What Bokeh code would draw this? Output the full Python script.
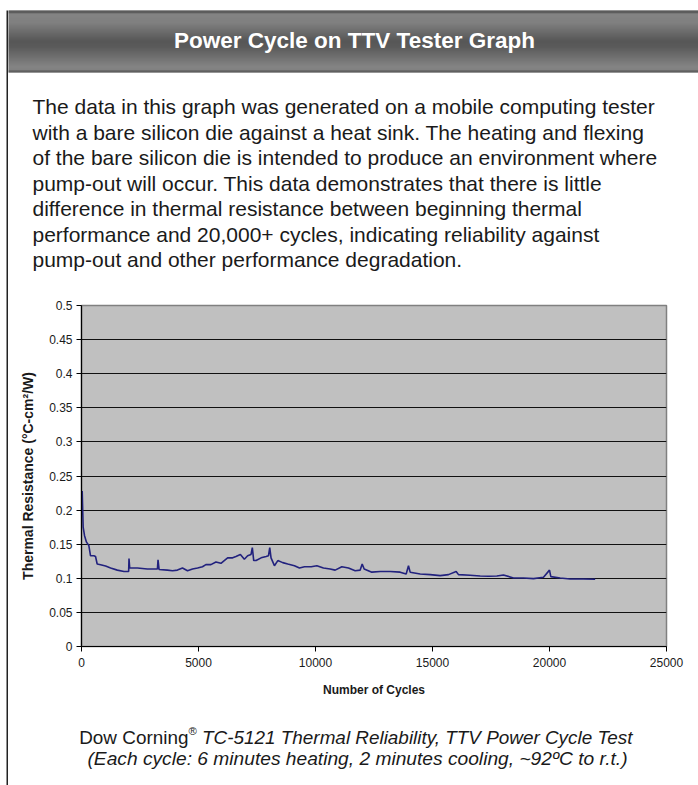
from bokeh.plotting import figure
from bokeh.models import Range1d, FixedTicker
from bokeh.layouts import column, row
from bokeh.embed import file_html
from bokeh.resources import INLINE
from bokeh.core.properties import value

# ---------------- data ----------------
TITLE = "Power Cycle on TTV Tester Graph"
PARAGRAPH = [
    "The data in this graph was generated on a mobile computing tester",
    "with a bare silicon die against a heat sink. The heating and flexing",
    "of the bare silicon die is intended to produce an environment where",
    "pump-out will occur. This data demonstrates that there is little",
    "difference in thermal resistance between beginning thermal",
    "performance and 20,000+ cycles, indicating reliability against",
    "pump-out and other performance degradation.",
]
CAPTION_PLAIN = "Dow Corning"
CAPTION_MARK = "®"
CAPTION_ITALIC = "TC-5121 Thermal Reliability, TTV Power Cycle Test"
CAPTION_LINE2 = "(Each cycle: 6 minutes heating, 2 minutes cooling, ~92ºC to r.t.)"
X_LABEL = "Number of Cycles"
Y_LABEL = "Thermal Resistance (°C-cm²/W)"

cycles = [0, 30, 71, 130, 214, 314, 386, 530, 600, 670, 815, 1030, 1243, 1530,
          1815, 2015, 2030, 2060, 2390, 2815, 3245, 3270, 3315, 3670, 3890, 4100,
          4315, 4530, 4745, 4960, 5170, 5315, 5530, 5745, 5960, 6100, 6245, 6460,
          6600, 6790, 6960, 7100, 7245, 7300, 7360, 7460, 7675, 7890, 7990, 8045,
          8100, 8245, 8390, 8600, 8815, 9100, 9315, 9530, 9815, 10057, 10340,
          10627, 10840, 11125, 11410, 11695, 11910, 11995, 12080, 12407, 12763,
          13190, 13618, 13875, 13974, 14045, 14473, 14900, 15328, 15684, 16011,
          16111, 16610, 17037, 17393, 17749, 18034, 18461, 18889, 19316, 19744,
          20000, 20057, 20456, 20883, 21453, 21951]
resistance = [0.21, 0.228, 0.175, 0.1625, 0.153, 0.148, 0.133, 0.133, 0.132, 0.121,
              0.12, 0.118, 0.115, 0.112, 0.110, 0.110, 0.129, 0.115, 0.115, 0.1137,
              0.1137, 0.127, 0.113, 0.112, 0.111, 0.112, 0.115, 0.111, 0.1137, 0.115,
              0.117, 0.12, 0.12, 0.124, 0.122, 0.126, 0.13, 0.13, 0.132, 0.135,
              0.128, 0.133, 0.135, 0.145, 0.126, 0.126, 0.13, 0.132, 0.133, 0.145,
              0.13, 0.1185, 0.126, 0.123, 0.121, 0.1185, 0.115, 0.117, 0.117, 0.1185,
              0.115, 0.1137, 0.112, 0.117, 0.115, 0.111, 0.112, 0.121, 0.1137, 0.109,
              0.110, 0.110, 0.109, 0.1063, 0.1185, 0.109, 0.1063, 0.1054, 0.1039,
              0.1054, 0.11, 0.1054, 0.1044, 0.1034, 0.103, 0.1034, 0.1049, 0.1005,
              0.1005, 0.0995, 0.1015, 0.112, 0.1024, 0.1005, 0.099, 0.099, 0.0985]

y_ticks = [0, 0.05, 0.1, 0.15, 0.2, 0.25, 0.3, 0.35, 0.4, 0.45, 0.5]
y_tick_labels = ["0", "0.05", "0.1", "0.15", "0.2", "0.25", "0.3", "0.35", "0.4", "0.45", "0.5"]
x_ticks = [0, 5000, 10000, 15000, 20000, 25000]
x_tick_labels = ["0", "5000", "10000", "15000", "20000", "25000"]

# ---------------- styling ----------------
FONT = value("Liberation Sans")
BW = 8            # left strip (white margin + dark border line)
W = 690
H_TOP, H_CHART, H_CAP = 290, 415, 80
H_ALL = H_TOP + H_CHART + H_CAP
TEXT_COLOR = "#1a1a1a"


def blank(width, height):
    f = figure(width=width, height=height, x_range=Range1d(0, width),
               y_range=Range1d(height, 0), output_backend="svg",
               toolbar_location=None, min_border=0,
               x_axis_type=None, y_axis_type=None, frame_align=False)
    f.grid.visible = False
    f.outline_line_color = None
    return f


# left border strip
border = blank(BW, H_ALL)
border.quad(left=[6], right=[8], top=[10], bottom=[H_ALL],
            fill_color="#222222", line_color=None)

# header + paragraph
top = blank(W, H_TOP)
stops = [(10, (38, 38, 38)), (12, (40, 40, 40)), (13, (92, 92, 92)), (22, (86, 86, 86)),
         (40, (32, 32, 32)), (46, (36, 36, 36)), (66, (92, 92, 92)), (69, (88, 88, 88)),
         (70, (44, 44, 44)), (72, (44, 44, 44))]
bands_t, bands_b, bands_c = [], [], []
for y in range(10, 72):
    for (ya, ca), (yb, cb) in zip(stops[:-1], stops[1:]):
        if ya <= y < yb:
            t = (y - ya) / (yb - ya)
            c = tuple(int(round(ca[k] + (cb[k] - ca[k]) * t)) for k in range(3))
            break
    bands_t.append(y)
    bands_b.append(y + 1)
    bands_c.append("#%02x%02x%02x" % c)
top.quad(left=-2, right=W, top=bands_t, bottom=bands_b, fill_color=bands_c, line_color=None)
top.text(x=[346], y=[40], text=[TITLE], text_font=FONT, text_font_style="bold",
         text_font_size="22.5px", text_color="white", text_align="center",
         text_baseline="middle")
top.text(x=[24] * len(PARAGRAPH), y=[106 + 25.5 * i for i in range(len(PARAGRAPH))],
         text=PARAGRAPH, text_font=FONT, text_font_size="21px", text_color=TEXT_COLOR,
         text_align="left", text_baseline="alphabetic")

# chart
p = figure(width=W, height=H_CHART, x_range=Range1d(0, 25000), y_range=Range1d(0, 0.5),
           output_backend="svg", toolbar_location=None, frame_align=False,
           min_border_left=73, min_border_right=32, min_border_top=15, min_border_bottom=59,
           background_fill_color="#c0c0c0", border_fill_color="white")
p.outline_line_color = "#808080"
p.outline_line_width = 1.5
p.xgrid.visible = False
p.ygrid.ticker = FixedTicker(ticks=y_ticks[1:-1])
p.ygrid.grid_line_color = "#111111"
p.ygrid.grid_line_width = 1.2
p.line(cycles, resistance, line_color="#22227e", line_width=1.6)

p.yaxis.ticker = FixedTicker(ticks=y_ticks)
p.yaxis.major_label_overrides = dict(zip(y_ticks, y_tick_labels))
p.xaxis.ticker = FixedTicker(ticks=x_ticks)
p.xaxis.major_label_overrides = dict(zip(x_ticks, x_tick_labels))
for ax in (p.xaxis[0], p.yaxis[0]):
    ax.axis_line_color = "black"
    ax.axis_line_width = 1.2
    ax.major_tick_line_color = "black"
    ax.major_tick_out = 5
    ax.major_tick_in = 0
    ax.minor_tick_line_color = None
    ax.major_label_text_font = "Liberation Sans"
    ax.major_label_text_font_size = "12px"
    ax.major_label_text_color = TEXT_COLOR
    ax.axis_label_text_font = "Liberation Sans"
    ax.axis_label_text_font_size = "12px"
    ax.axis_label_text_font_style = "bold"
    ax.axis_label_text_color = TEXT_COLOR
p.xaxis.axis_label = X_LABEL
p.yaxis.axis_label = Y_LABEL
p.yaxis.axis_label_text_font_size = "14px"
p.yaxis.major_label_standoff = 4
p.yaxis.axis_label_standoff = 10
p.xaxis.major_label_standoff = 6
p.xaxis.axis_label_standoff = 13

# caption
cap = blank(W, H_CAP)
fs = 18.9
w_plain = 5.779 * fs
w_mark = 0.737 * fs * 0.6
w_space = 0.278 * fs
w_ital = 22.949 * fs
cx = 349
x0 = cx - (w_plain + w_mark + w_space + w_ital) / 2
cap.text(x=[x0], y=[32], text=[CAPTION_PLAIN], text_font=FONT, text_font_size="%.1fpx" % fs,
         text_color=TEXT_COLOR, text_align="left", text_baseline="alphabetic")
cap.text(x=[x0 + w_plain], y=[25], text=[CAPTION_MARK], text_font=FONT,
         text_font_size="%.1fpx" % (fs * 0.6), text_color=TEXT_COLOR,
         text_align="left", text_baseline="alphabetic")
cap.text(x=[x0 + w_plain + w_mark + w_space], y=[32], text=[CAPTION_ITALIC], text_font=FONT,
         text_font_style="italic", text_font_size="%.1fpx" % fs, text_color=TEXT_COLOR,
         text_align="left", text_baseline="alphabetic")
cap.text(x=[cx], y=[53], text=[CAPTION_LINE2], text_font=FONT, text_font_style="italic",
         text_font_size="19.2px", text_color=TEXT_COLOR, text_align="center",
         text_baseline="alphabetic")

layout = row(border, column(top, p, cap, spacing=0), spacing=0)
open("out.html", "w").write(file_html(layout, INLINE))
